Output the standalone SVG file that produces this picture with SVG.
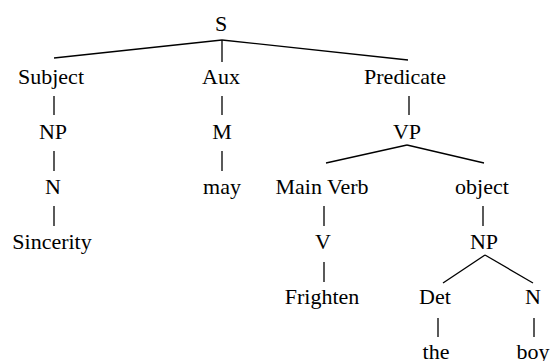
<svg xmlns="http://www.w3.org/2000/svg" width="551" height="361" viewBox="0 0 551 361">
<style>
.c line{stroke:#000;stroke-width:1.3}
</style>
<rect width="551" height="361" fill="#fff"/>
<g class="c" id="connectors">
<line x1="222" y1="40" x2="54" y2="58"/>
<line x1="222" y1="40" x2="222" y2="62"/>
<line x1="222" y1="40" x2="408" y2="60"/>
<line x1="54" y1="96" x2="54" y2="115"/>
<line x1="222" y1="96" x2="222" y2="115"/>
<line x1="409" y1="96" x2="409" y2="115"/>
<line x1="54" y1="151" x2="54" y2="171"/>
<line x1="222" y1="151" x2="222" y2="171"/>
<line x1="407" y1="145" x2="326" y2="163"/>
<line x1="407" y1="145" x2="484" y2="163"/>
<line x1="54" y1="206" x2="54" y2="226"/>
<line x1="324" y1="206" x2="324" y2="226"/>
<line x1="483" y1="206" x2="483" y2="226"/>
<line x1="324" y1="262" x2="324" y2="282"/>
<line x1="485" y1="255" x2="443" y2="283"/>
<line x1="485" y1="255" x2="533" y2="283"/>
<line x1="438" y1="318" x2="438" y2="337"/>
<line x1="534" y1="318" x2="534" y2="337"/>
</g>
<g font-family="Liberation Serif, DejaVu Serif, serif" font-size="22" text-anchor="middle" fill="#000">
<g id="S"><text x="221" y="31">S</text></g>
<g id="Subject"><text x="51" y="84">Subject</text></g>
<g id="Aux"><text x="221" y="84">Aux</text></g>
<g id="Predicate"><text x="405" y="84">Predicate</text></g>
<g id="NP1"><text x="53" y="139">NP</text></g>
<g id="M"><text x="222" y="139">M</text></g>
<g id="VP"><text x="407" y="139">VP</text></g>
<g id="N1"><text x="53" y="194">N</text></g>
<g id="may"><text x="222" y="194">may</text></g>
<g id="MainVerb"><text x="322" y="194">Main Verb</text></g>
<g id="object"><text x="482" y="194">object</text></g>
<g id="Sincerity"><text x="52" y="249">Sincerity</text></g>
<g id="V"><text x="323" y="249">V</text></g>
<g id="NP2"><text x="484" y="249">NP</text></g>
<g id="Frighten"><text x="322" y="304">Frighten</text></g>
<g id="Det"><text x="435" y="304">Det</text></g>
<g id="N2"><text x="533" y="304">N</text></g>
<g id="the"><text x="436" y="359">the</text></g>
<g id="boy"><text x="533" y="359">boy</text></g>
</g>
</svg>
